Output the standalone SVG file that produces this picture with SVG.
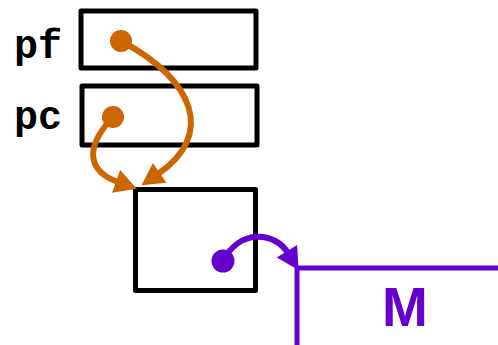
<svg xmlns="http://www.w3.org/2000/svg" width="498" height="345" viewBox="0 0 498 345">
<style>
.box{fill:none;stroke:#000;stroke-width:5;stroke-linejoin:round}
.lbl{font-family:"Liberation Mono","Courier New",monospace;font-weight:bold;font-size:40px;fill:#000}
.o{fill:none;stroke:#CC6600;stroke-width:6}
.p{fill:none;stroke:#6600CC;stroke-width:6}
</style>
<defs>
<marker id="ao" markerUnits="userSpaceOnUse" markerWidth="24" markerHeight="26" refX="0" refY="12" orient="auto" overflow="visible">
<path d="M-2,0 L20,12 L-2,24 z" fill="#CC6600"/>
</marker>
<marker id="ap" markerUnits="userSpaceOnUse" markerWidth="24" markerHeight="26" refX="0" refY="12" orient="auto" overflow="visible">
<path d="M-2,0 L20,12 L-2,24 z" fill="#6600CC"/>
</marker>
</defs>
<g id="pf">
<rect class="box" x="81" y="11" width="175" height="57"/>
<text class="lbl" x="14" y="58">pf</text>
</g>
<g id="pc">
<rect class="box" x="82" y="86" width="175" height="59"/>
<text class="lbl" x="14" y="129">pc</text>
</g>
<g id="obj">
<rect class="box" x="135.5" y="189.5" width="120" height="101"/>
</g>
<g id="M">
<path d="M297,345 L297,268 L498,268" fill="none" stroke="#6600CC" stroke-width="5"/>
<text x="405" y="326" text-anchor="middle" font-family="Liberation Sans,Arial,sans-serif" font-weight="bold" font-size="55" fill="#6600CC">M</text>
</g>
<g id="connectors">
<circle cx="121" cy="41" r="11" fill="#CC6600"/>
<path class="o" d="M121,41 C195,80 215,135 158,174" marker-end="url(#ao)"/>
<circle cx="113" cy="117" r="11" fill="#CC6600"/>
<path class="o" d="M113,117 C82,150 90,172 118,182" marker-end="url(#ao)"/>
<circle cx="223" cy="261" r="11.5" fill="#6600CC"/>
<path class="p" d="M223,261 C240,228 275,232 288,253" marker-end="url(#ap)"/>
</g>
</svg>
